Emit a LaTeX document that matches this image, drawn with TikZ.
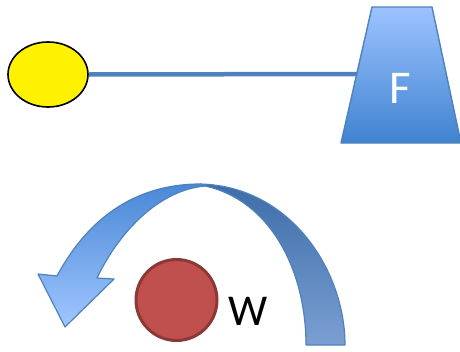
\documentclass[tikz,border=0pt]{standalone}
\usepackage{fontspec}
\setmainfont{Carlito}
\usetikzlibrary{shapes.geometric}
\definecolor{edgeblue}{RGB}{79,129,189}
\definecolor{lightface}{RGB}{160,198,255}
\definecolor{midface}{RGB}{74,136,214}
\definecolor{darkface}{RGB}{61,109,170}
\definecolor{backlow}{RGB}{123,159,210}
\definecolor{trtop}{RGB}{157,195,255}
\definecolor{trbot}{RGB}{63,131,208}
\definecolor{ballred}{RGB}{192,80,77}
\definecolor{ballrim}{RGB}{140,56,54}
\tikzset{
  ribbon/.style={draw=edgeblue, line width=1.2pt, line join=round},
  label/.style={inner sep=0pt, anchor=base},
}
\begin{document}
\begin{tikzpicture}[x=1pt,y=-1pt]
\useasboundingbox (0,0) rectangle (460,351);
% yellow ball and rod
\node[ellipse, draw=black, line width=1.6pt, fill=yellow, minimum width=80pt, minimum height=65pt, inner sep=0pt] (ball) at (48,74.5) {};
\coordinate (fl) at (357,74);
\draw[edgeblue, line width=4.5pt] (ball.east) -- (fl);
% trapezoid F
\path[draw=edgeblue, line width=1.4pt, line join=round, top color=trtop, bottom color=trbot]
  (372,7) -- (432,7) -- (461,143) -- (341,143) -- cycle;
\node[label, text=white, font=\fontsize{47}{47}\selectfont] (F) at (400,103) {F};
% curved arrow: back (right) face
\path[ribbon, top color=darkface, bottom color=backlow]
  (200,184) .. controls (290,186) and (345,270) .. (345,345)
  -- (306,345) .. controls (306,270) and (270,200) .. (205,186) -- cycle;
% front (left) face with head
\path[ribbon, top color=midface, bottom color=lightface]
  (97,278) -- (114,279) -- (65,327) -- (38,274) -- (57,276)
  .. controls (95,205) and (150,184) .. (200,184)
  -- (205,186) .. controls (160,190) and (120,230) .. (97,278) -- cycle;
% red ball
\node[circle, draw=ballrim, line width=3pt, fill=ballred, minimum size=81pt, inner sep=0pt] (w) at (176.5,300) {};
\node[label, font=\fontsize{44}{44}\selectfont] (W) at (248,325) {W};
\end{tikzpicture}
\end{document}
